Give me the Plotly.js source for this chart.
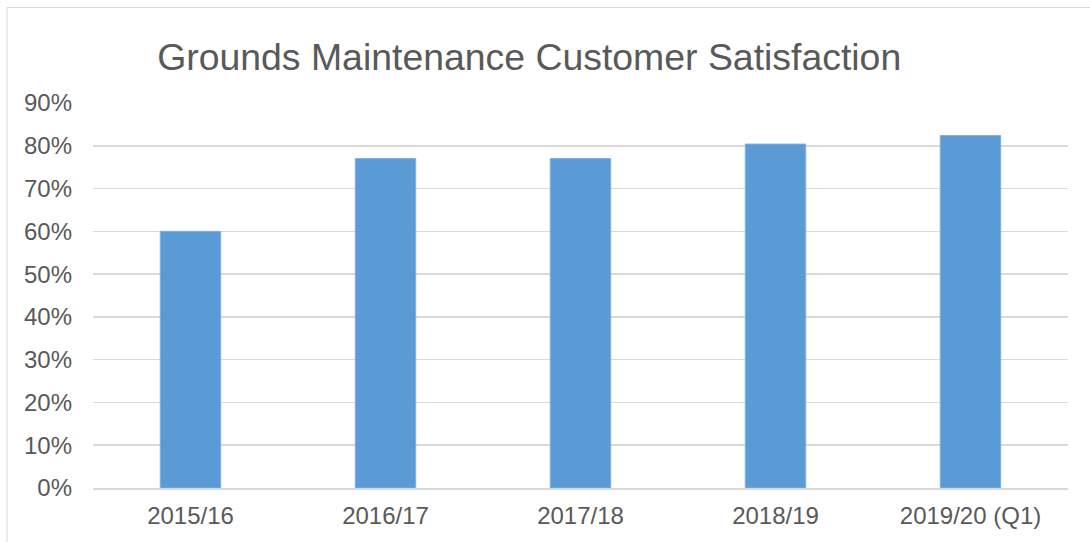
<!DOCTYPE html>
<html>
<head>
<meta charset="utf-8">
<script src="https://cdn.plot.ly/plotly-3.0.1.min.js"></script>
<style>
html,body{margin:0;padding:0;background:#fff;}
#chart{width:1090px;height:542px;}
</style>
</head>
<body>
<div id="chart"></div>
<script>
const categories = ["2015/16", "2016/17", "2017/18", "2018/19", "2019/20 (Q1)"];
const satisfaction = [0.60, 0.77, 0.77, 0.804, 0.824];
const yTickValues = [0, 0.1, 0.2, 0.3, 0.4, 0.5, 0.6, 0.7, 0.8, 0.9];
const yTickLabels = ["0%", "10%", "20%", "30%", "40%", "50%", "60%", "70%", "80%", "90%"];

const trace = {
  type: "bar",
  x: categories,
  y: satisfaction,
  marker: {color: "#5B9BD5", line: {color: "#7FB0E0", width: 1}},
  hoverinfo: "x+y"
};

const layout = {
  width: 1090,
  height: 542,
  margin: {l: 93, r: 22, t: 103, b: 54, pad: 0},
  paper_bgcolor: "#ffffff",
  plot_bgcolor: "#ffffff",
  font: {family: "Liberation Sans, Arial, sans-serif", color: "#595959", size: 24},
  title: {
    text: "Grounds Maintenance Customer Satisfaction",
    font: {family: "Liberation Sans, Arial, sans-serif", size: 37.4, color: "#595959"},
    x: 0.4855, xanchor: "center", xref: "container",
    y: 0.895, yanchor: "middle", yref: "container"
  },
  bargap: 0.69,
  showlegend: false,
  xaxis: {
    type: "category",
    showgrid: false,
    showline: true,
    linecolor: "#D9D9D9",
    linewidth: 1.5,
    ticks: "",
    tickfont: {size: 24, color: "#595959"},
    ticklabelstandoff: 6,
    fixedrange: true
  },
  yaxis: {
    range: [0, 0.9],
    tickvals: yTickValues,
    ticktext: yTickLabels,
    showgrid: true,
    gridcolor: "#D9D9D9",
    gridwidth: 1.5,
    zeroline: false,
    showline: false,
    ticks: "",
    tickfont: {size: 24, color: "#595959"},
    ticklabelstandoff: 20,
    fixedrange: true
  },
  shapes: [{
    type: "rect",
    xref: "paper", yref: "paper",
    x0: (7 - 93) / 975, x1: 1.2,
    y0: -0.3, y1: (488 - 7.5) / 385,
    line: {color: "#D9D9D9", width: 1},
    fillcolor: "rgba(0,0,0,0)",
    layer: "below"
  }]
};

Plotly.newPlot("chart", [trace], layout, {displayModeBar: false, staticPlot: true});
</script>
</body>
</html>
